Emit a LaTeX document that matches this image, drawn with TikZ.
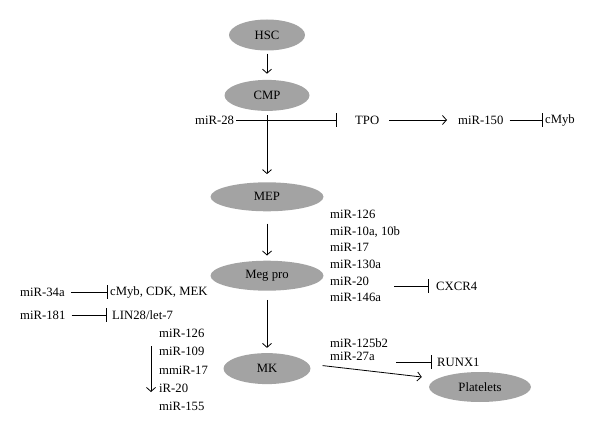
\documentclass[tikz,border=0pt]{standalone}
\usepackage{fontspec}
\setmainfont{Liberation Serif}
\usetikzlibrary{arrows.meta,shapes.geometric,positioning}

\begin{document}
\begin{tikzpicture}[x=1pt,y=-1pt,>={Straight Barb[length=4pt,width=9pt]},font=\fontsize{12.7}{16}\selectfont]

	\tikzstyle{cell}=[ellipse,fill=gray!72,inner sep=0pt,minimum height=31pt]
	\tikzstyle{lbl}=[inner sep=2pt,anchor=west]
	\tikzstyle{inh}=[-{Bar[width=14pt]},line width=0.8pt]
	\tikzstyle{act}=[->,line width=0.8pt]
	\useasboundingbox (0,0) rectangle (600,436);

	% lineage
	\node [cell,minimum width=76pt] (hsc) at (267,35) {HSC};
	\node [cell,minimum width=85pt] (cmp) [below=29pt of hsc] {CMP};
	\node [cell,minimum width=113pt,minimum height=29pt] (mep) [below=71pt of cmp] {MEP};
	\node [cell,minimum width=113pt,minimum height=30pt] (megpro) [below=49pt of mep] {Meg pro};
	\node [cell,minimum width=87pt] (mk) [below=62pt of megpro] {MK};
	\node [cell,minimum width=102pt,minimum height=30pt] (plt) at (480,387) {Platelets};

	\draw [act,shorten <=3pt,shorten >=6pt] (hsc) -- (cmp);
	\draw [act,shorten <=4pt,shorten >=8pt] (cmp) -- (mep);
	\draw [act,shorten <=12pt,shorten >=5pt] (mep) -- (megpro);
	\draw [act,shorten <=9pt,shorten >=5pt] (megpro) -- (mk);
	\draw [act] ([shift={(12,-3)}]mk.east) -- ([shift={(-7,-10)}]plt.west);

	% TPO axis
	\node [lbl] (mir28) at (193,120) {miR-28};
	\node [lbl] (tpo) at (353,120) {TPO};
	\node [lbl] (mir150) at (456,120) {miR-150};
	\node [lbl] (cmyb) at (543,120) {cMyb};
	\draw [inh,shorten >=16pt] (mir28) -- (tpo);
	\draw [act,shorten <=8pt,shorten >=9pt] (tpo) -- (mir150);
	\draw [inh,shorten <=4pt] (mir150) -- (cmyb);

	% Meg pro regulators
	\node [lbl,align=left,font=\fontsize{12.7}{16.6}\selectfont] (megmir) at (328,256)
		{miR-126\\miR-10a, 10b\\miR-17\\miR-130a\\miR-20\\miR-146a};
	\node [lbl] (cxcr4) at (434,286) {CXCR4};
	\coordinate (cxs) at (394,286);
	\draw [inh,shorten >=5pt] (cxs) -- (cxcr4);

	\node [lbl] (mir34a) at (18,292) {miR-34a};
	\node [lbl] (cdk) at (108,292) {cMyb, CDK, MEK};
	\draw [inh,shorten <=4pt] (mir34a) -- (cdk);
	\node [lbl] (mir181) at (18,315) {miR-181};
	\node [lbl] (lin28) at (110,315) {LIN28/let-7};
	\draw [inh,shorten <=4pt,shorten >=3pt] (mir181) -- (lin28);

	% MK regulators
	\node [lbl,align=left,font=\fontsize{12.7}{18.3}\selectfont] (mkmir) at (157,370)
		{miR-126\\miR-109\\mmiR-17\\iR-20\\miR-155};
	\coordinate (dtop) at (151,346);
	\coordinate (dbot) at (151,392);
	\draw [act] (dtop) -- (dbot);

	\node [lbl,align=left,font=\fontsize{12.7}{13}\selectfont] (pltmir) at (328,349.5)
		{miR-125b2\\miR-27a};
	\node [lbl] (runx1) at (435,362) {RUNX1};
	\coordinate (rxs) at (396,362);
	\draw [inh,shorten >=3pt] (rxs) -- (runx1);

\end{tikzpicture}
\end{document}
